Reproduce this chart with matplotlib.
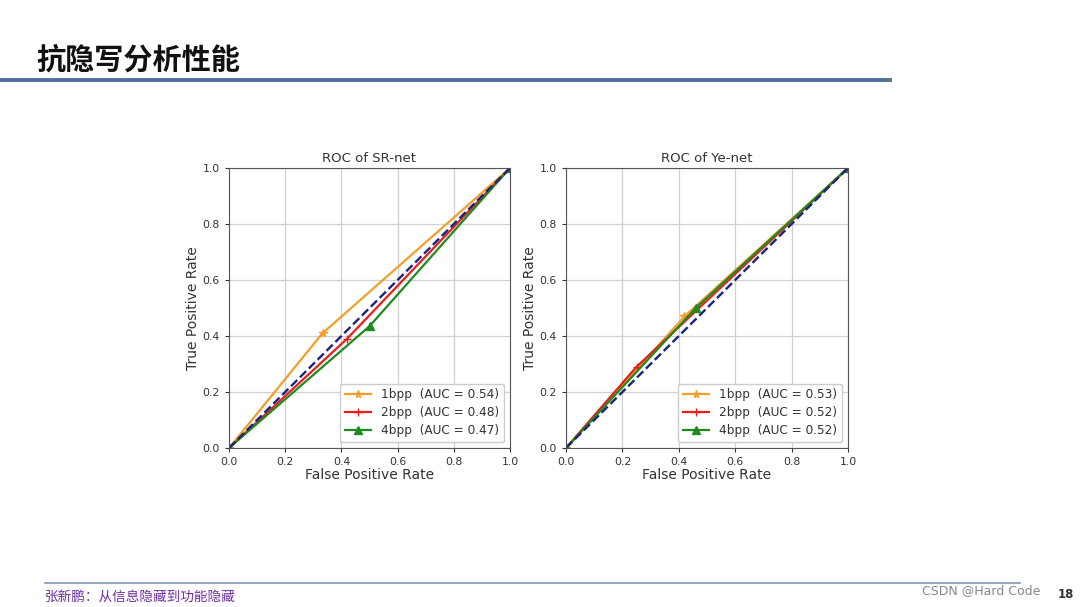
import matplotlib
matplotlib.use("Agg")
import matplotlib.pyplot as plt

plt.rcParams['font.family'] = ['DejaVu Sans', 'Noto Sans CJK SC']

# Data
sr_fpr = {
    "1bpp": [0.0, 0.333, 1.0],
    "2bpp": [0.0, 0.42, 1.0],
    "4bpp": [0.0, 0.50, 1.0],
}
sr_tpr = {
    "1bpp": [0.0, 0.41, 1.0],
    "2bpp": [0.0, 0.39, 1.0],
    "4bpp": [0.0, 0.435, 1.0],
}
sr_auc = {"1bpp": 0.54, "2bpp": 0.48, "4bpp": 0.47}

ye_fpr = {
    "1bpp": [0.0, 0.42, 1.0],
    "2bpp": [0.0, 0.25, 1.0],
    "4bpp": [0.0, 0.46, 1.0],
}
ye_tpr = {
    "1bpp": [0.0, 0.47, 1.0],
    "2bpp": [0.0, 0.29, 1.0],
    "4bpp": [0.0, 0.50, 1.0],
}
ye_auc = {"1bpp": 0.53, "2bpp": 0.52, "4bpp": 0.52}

series = ["1bpp", "2bpp", "4bpp"]
colors = {"1bpp": "#f59e2a", "2bpp": "#e8201c", "4bpp": "#1f8a1f"}
markers = {"1bpp": "*", "2bpp": "+", "4bpp": "^"}
ticks = [0.0, 0.2, 0.4, 0.6, 0.8, 1.0]
tick_labels = ["0.0", "0.2", "0.4", "0.6", "0.8", "1.0"]

W, H = 1080, 607
fig = plt.figure(figsize=(W / 100, H / 100), dpi=100)
fig.patch.set_facecolor("white")

def box(x0, y0, x1, y1):
    return [x0 / W, 1 - y1 / H, (x1 - x0) / W, (y1 - y0) / H]

def draw(ax, fpr, tpr, auc, title):
    for s in series:
        ax.plot(fpr[s], tpr[s], color=colors[s], marker=markers[s], lw=1.6, ms=5.5,
                label=f"{s}  (AUC = {auc[s]:.2f})")
    ax.plot([0, 1], [0, 1], color="#1a237e", lw=1.7, ls="--")
    ax.set_xlim(0, 1)
    ax.set_ylim(0, 1)
    ax.set_xticks(ticks)
    ax.set_xticklabels(tick_labels)
    ax.set_yticks(ticks)
    ax.set_yticklabels(tick_labels)
    ax.tick_params(labelsize=7.8, colors="#333333", length=3)
    ax.grid(True, color="#d0d0d0", lw=0.9)
    ax.set_axisbelow(True)
    ax.set_title(title, fontsize=9.5, color="#333333", pad=4)
    ax.set_xlabel("False Positive Rate", fontsize=10, color="#333333", labelpad=1)
    ax.set_ylabel("True Positive Rate", fontsize=10, color="#333333", labelpad=2)
    for sp in ax.spines.values():
        sp.set_color("#555555")
    leg = ax.legend(loc="lower right", fontsize=8.7, framealpha=1, edgecolor="#cccccc",
                    handlelength=2.2, borderpad=0.4, labelspacing=0.4)
    for t in leg.get_texts():
        t.set_color("#333333")

ax1 = fig.add_axes(box(229, 168, 510, 448))
draw(ax1, sr_fpr, sr_tpr, sr_auc, "ROC of SR-net")
ax2 = fig.add_axes(box(566, 168, 848, 448))
draw(ax2, ye_fpr, ye_tpr, ye_auc, "ROC of Ye-net")

# Slide decorations
fig.text(36 / W, 1 - 60 / H, "抗隐写分析性能", fontsize=21, fontweight="bold",
         family=["Noto Sans CJK SC", "DejaVu Sans"], va="center", ha="left", color="#111111")
fig.add_artist(plt.Line2D([0, 890 / W], [1 - 80 / H, 1 - 80 / H], color="#4f7298", lw=2.8))
fig.add_artist(plt.Line2D([45 / W, 1020 / W], [1 - 583 / H, 1 - 583 / H], color="#7f95b5", lw=1.2))
fig.text(45 / W, 1 - 597 / H, "张新鹏：从信息隐藏到功能隐藏", fontsize=9.8,
         family=["Noto Sans CJK SC", "DejaVu Sans"], va="center", ha="left", color="#7030a0")
fig.text(922 / W, 1 - 591 / H, "CSDN @Hard Code", fontsize=9, va="center", ha="left", color="#888888")
fig.text(1058 / W, 1 - 594 / H, "18", fontsize=8.5, fontweight="bold", va="center", ha="left", color="#333333")

fig.savefig("out.png", dpi=100)
